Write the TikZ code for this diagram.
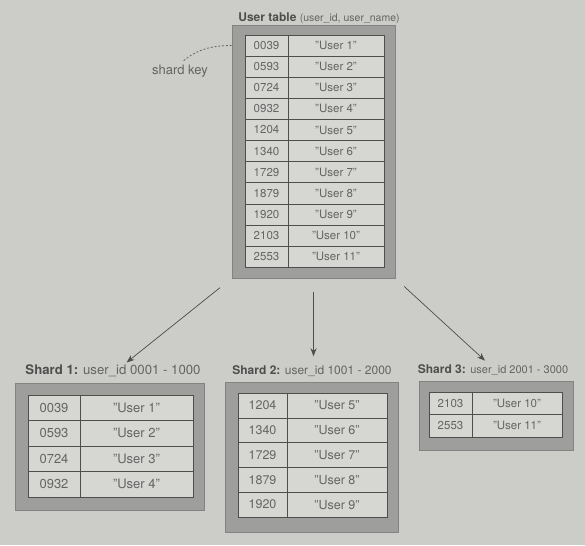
\documentclass[tikz,border=0pt]{standalone}
\usepackage{fontspec}
\setmainfont{TeX Gyre Heros}
\usetikzlibrary{arrows.meta}

\definecolor{paper}{RGB}{204,204,201}
\definecolor{boxgray}{RGB}{158,158,156}
\definecolor{cellgray}{RGB}{214,214,211}
\definecolor{ink}{RGB}{100,100,100}
\definecolor{darkink}{RGB}{78,78,78}

\tikzset{
  box/.style={draw=ink!80, fill=boxgray, line width=0.7pt, inner sep=0pt},
  idcell/.style={draw=darkink, fill=cellgray, line width=0.6pt, inner sep=0pt, text=ink, font=\fontsize{11.5}{13}\selectfont},
  namecell/.style={idcell},
  heading/.style={text=ink, font=\fontsize{12}{14}\selectfont, inner sep=1pt},
  arrow/.style={-{Stealth[length=8pt,width=6pt]}, draw=darkink, line width=0.7pt}
}

\begin{document}
\begin{tikzpicture}[x=1pt,y=-1pt]
% Paper and bounding box
\fill[paper] (0,0) rectangle (585,545);
\useasboundingbox (0,0) rectangle (585,545);

% User table
\node[heading] (tmain) at (319,18) {\textbf{\color{darkink}User table} {\fontsize{10.5}{12}\selectfont(user\_id, user\_name)}};
\node[box, minimum width=163pt, minimum height=253pt] (main) at (313.5,151.5) {};
\foreach \id/\name [count=\i] in {0039/User 1,0593/User 2,0724/User 3,0932/User 4,1204/User 5,1340/User 6,1729/User 7,1879/User 8,1920/User 9,2103/User 10,2553/User 11} {
  \node[idcell, minimum width=43pt, minimum height=21.1pt] (u\i) at (266.5,{35+21.1*(\i-0.5)}) {\id};
  \node[namecell, minimum width=96pt, minimum height=21.1pt] (n\i) at (336,{35+21.1*(\i-0.5)}) {"\name"};
}

% Shard key
\node[heading, font=\fontsize{13}{15}\selectfont] (key) at (180,71) {shard key};
\draw[ink, line width=0.8pt, dash pattern=on 2pt off 1.8pt, shorten >=3pt] (main.west |- u1) to[out=180,in=40] (key.north);

% Shard 1
\node[heading, font=\fontsize{13.2}{15}\selectfont] (t1) at (113,371) {\textbf{\color{darkink}Shard 1:} user\_id 0001 - 1000};
\node[box, minimum width=189pt, minimum height=127pt] (shardA) at (109.5,446.5) {};
\foreach \id/\name [count=\i] in {0039/User 1,0593/User 2,0724/User 3,0932/User 4} {
  \node[idcell, font=\fontsize{13}{15}\selectfont, minimum width=52pt, minimum height=25.5pt] (a\i) at (54,{395+25.5*(\i-0.5)}) {\id};
  \node[namecell, font=\fontsize{13}{15}\selectfont, minimum width=113pt, minimum height=25.5pt] (an\i) at (136.5,{395+25.5*(\i-0.5)}) {"\name"};
}

% Shard 2
\node[heading] (t2) at (312,371) {\textbf{\color{darkink}Shard 2:} user\_id 1001 - 2000};
\node[box, minimum width=173pt, minimum height=150pt] (shardB) at (311.5,457) {};
\foreach \id/\name [count=\i] in {1204/User 5,1340/User 6,1729/User 7,1879/User 8,1920/User 9} {
  \node[idcell, font=\fontsize{12.5}{14}\selectfont, minimum width=49pt, minimum height=24.8pt] (b\i) at (262.5,{393+24.8*(\i-0.5)}) {\id};
  \node[namecell, font=\fontsize{12.5}{14}\selectfont, minimum width=100pt, minimum height=24.8pt] (bn\i) at (337,{393+24.8*(\i-0.5)}) {"\name"};
}

% Shard 3
\node[heading] (t3) at (493,370) {\textbf{\color{darkink}Shard 3:} {\fontsize{11}{13}\selectfont user\_id 2001 - 3000}};
\node[box, minimum width=154pt, minimum height=69pt] (shardC) at (496,415.5) {};
\foreach \id/\name [count=\i] in {2103/User 10,2553/User 11} {
  \node[idcell, minimum width=43pt, minimum height=22.5pt] (c\i) at (450.5,{392+22.5*(\i-0.5)}) {\id};
  \node[namecell, minimum width=90pt, minimum height=22.5pt] (cn\i) at (517,{392+22.5*(\i-0.5)}) {"\name"};
}

% Arrows to the shards
\draw[arrow, shorten <=15pt, shorten >=2pt] (main.south west) -- ([xshift=12pt]t1.north);
\draw[arrow, shorten <=14pt, shorten >=8pt] (main.south) -- (main.south |- t2.north);
\draw[arrow, shorten <=12pt, shorten >=4pt] (main.south east) -- ([xshift=-5pt]t3.north);
\end{tikzpicture}
\end{document}
